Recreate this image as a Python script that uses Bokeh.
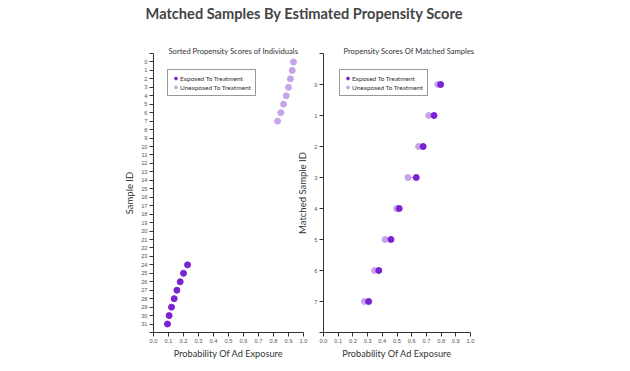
from bokeh.plotting import figure
from bokeh.models import Range1d, FixedTicker, Div, PrintfTickFormatter, Legend, LegendItem
from bokeh.layouts import column, row
from bokeh.embed import file_html
from bokeh.resources import INLINE

# ---- data ----
title_text = "Matched Samples By Estimated Propensity Score"
left_title = "Sorted Propensity Scores of Individuals"
right_title = "Propensity Scores Of Matched Samples"
x_label = "Probability Of Ad Exposure"
left_ylabel = "Sample ID"
right_ylabel = "Matched Sample ID"
exposed_label = "Exposed To Treatment"
unexposed_label = "Unexposed To Treatment"

x_ticks = [0.0, 0.1, 0.2, 0.3, 0.4, 0.5, 0.6, 0.7, 0.8, 0.9, 1.0]

# Left panel: sorted individuals
unexposed_ids = [0, 1, 2, 3, 4, 5, 6, 7]
unexposed_scores = [0.933, 0.925, 0.913, 0.900, 0.885, 0.867, 0.849, 0.827]
exposed_ids = [24, 25, 26, 27, 28, 29, 30, 31]
exposed_scores = [0.227, 0.200, 0.178, 0.156, 0.138, 0.120, 0.104, 0.093]
left_ids = list(range(0, 32))

# Right panel: matched pairs
matched_ids = [0, 1, 2, 3, 4, 5, 6, 7]
matched_exposed = [0.797, 0.752, 0.678, 0.631, 0.515, 0.459, 0.376, 0.307]
matched_unexposed = [0.777, 0.716, 0.647, 0.575, 0.497, 0.419, 0.347, 0.278]

DARK = "#7a22d2"
LIGHT = "#c8a3ec"
LINK = "#a48cc4"
AXIS = "#333333"
TICKLBL = "#555555"


def style(p, yticks, ylo, yhi, ylabel):
    p.xgrid.visible = False
    p.ygrid.visible = False
    p.outline_line_color = None
    p.background_fill_color = None
    p.border_fill_color = None
    p.xaxis.ticker = FixedTicker(ticks=x_ticks)
    p.xaxis.formatter = PrintfTickFormatter(format="%.1f")
    p.yaxis.ticker = FixedTicker(ticks=[ylo] + yticks + [yhi])
    p.yaxis.major_label_overrides = {ylo: "", yhi: ""}
    for ax in (p.xaxis[0], p.yaxis[0]):
        ax.axis_line_color = AXIS
        ax.major_tick_line_color = AXIS
        ax.major_tick_in = 0
        ax.major_tick_out = 4
        ax.minor_tick_line_color = None
        ax.major_label_text_font = "Liberation Sans"
        ax.major_label_text_font_size = "5.7px"
        ax.major_label_text_color = TICKLBL
        ax.major_label_standoff = 2
        ax.axis_label_text_font = "Lato"
        ax.axis_label_text_font_style = "normal"
        ax.axis_label_text_color = "#333333"
    p.xaxis.axis_label = x_label
    p.xaxis.axis_label_text_font_size = "9.2px"
    p.xaxis.axis_label_standoff = 2
    p.yaxis.axis_label = ylabel
    p.yaxis.axis_label_text_font_size = "9.5px"
    p.yaxis.axis_label_standoff = 3


def legend_for(p, r_exp, r_unexp, x, y):
    leg = Legend(items=[LegendItem(label=exposed_label, renderers=[r_exp]),
                        LegendItem(label=unexposed_label, renderers=[r_unexp])],
                 location=(x, y))
    leg.border_line_color = AXIS
    leg.border_line_width = 1
    leg.background_fill_color = "white"
    leg.background_fill_alpha = 1
    leg.label_text_font = "Lato"
    leg.label_text_font_size = "6.5px"
    leg.label_text_color = "#333333"
    leg.glyph_width = 7
    leg.glyph_height = 8
    leg.label_height = 8
    leg.label_standoff = 1
    leg.spacing = 1
    leg.padding = 4
    leg.margin = 0
    p.add_layout(leg, "center")


def set_title(p, text, offset):
    p.title.text = text
    p.title.align = "left"
    p.title.offset = offset
    p.title.text_font = "Lato"
    p.title.text_font_style = "normal"
    p.title.text_font_size = "7.6px"
    p.title.text_color = "#333333"
    p.title.standoff = -5


header = Div(text=title_text, width=598, height=30,
             styles={"font-family": "Lato", "font-weight": "bold", "font-size": "14.6px",
                     "color": "#444444", "text-align": "center", "line-height": "18px"})

# Left figure
p1 = figure(width=315, height=325, x_range=Range1d(0, 1), y_range=Range1d(32, -1),
            output_backend="svg", toolbar_location=None,
            min_border_left=153, min_border_right=12, min_border_top=13, min_border_bottom=33)
style(p1, left_ids, -1, 32, left_ylabel)
set_title(p1, left_title, 15)
r1e = p1.scatter(exposed_scores, exposed_ids, size=6, color=DARK)
r1u = p1.scatter(unexposed_scores, unexposed_ids, size=6, color=LIGHT)
legend_for(p1, r1e, r1u, 14, 236)

# Right figure
p2 = figure(width=200, height=325, x_range=Range1d(0, 1), y_range=Range1d(8, -1),
            output_backend="svg", toolbar_location=None,
            min_border_left=27, min_border_right=24, min_border_top=13, min_border_bottom=33,
            margin=(0, 0, 0, -21))
style(p2, matched_ids, -1, 8, right_ylabel)
set_title(p2, right_title, 20)
p2.segment(x0=matched_unexposed, y0=matched_ids, x1=matched_exposed, y1=matched_ids,
           line_color=LINK, line_width=1)
r2u = p2.scatter(matched_unexposed, matched_ids, size=6, color=LIGHT)
r2e = p2.scatter(matched_exposed, matched_ids, size=6, color=DARK)
legend_for(p2, r2e, r2u, 16, 236)

layout = column(header, row(p1, p2))
open("out.html", "w").write(file_html(layout, INLINE))
